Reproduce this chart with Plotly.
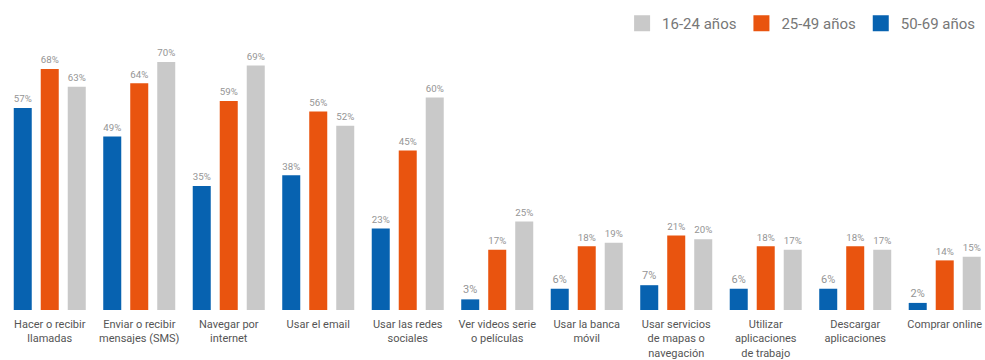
import plotly.graph_objects as go

categories = [
    "Hacer o recibir<br>llamadas",
    "Enviar o recibir<br>mensajes (SMS)",
    "Navegar por<br>internet",
    "Usar el email",
    "Usar las redes<br>sociales",
    "Ver videos serie<br>o películas",
    "Usar la banca<br>móvil",
    "Usar servicios<br>de mapas o<br>navegación",
    "Utilizar<br>aplicaciones<br>de trabajo",
    "Descargar<br>aplicaciones",
    "Comprar online",
]

edad_50_69 = [57, 49, 35, 38, 23, 3, 6, 7, 6, 6, 2]
edad_25_49 = [68, 64, 59, 56, 45, 17, 18, 21, 18, 18, 14]
edad_16_24 = [63, 70, 69, 52, 60, 25, 19, 20, 17, 17, 15]

series = [
    ("50-69 años", edad_50_69, "#0762B0"),
    ("25-49 años", edad_25_49, "#E9540F"),
    ("16-24 años", edad_16_24, "#C9C9C9"),
]

x = list(range(len(categories)))

fig = go.Figure()
for name, vals, color in series:
    fig.add_trace(go.Bar(
        x=x, y=vals, name=name, showlegend=False,
        marker=dict(color=color, line=dict(width=0)),
        text=[f"{v}%" for v in vals],
        textposition="outside",
        textfont=dict(size=11, color="#959595"),
        cliponaxis=False,
    ))

# legend entries with larger square swatches
for name, _, color in series:
    fig.add_trace(go.Scatter(
        x=[None], y=[None], name=name, mode="markers",
        marker=dict(symbol="square", size=16, color=color),
        showlegend=True, hoverinfo="skip",
    ))

fig.update_layout(
    width=985, height=360,
    margin=dict(l=5, r=0, t=40, b=48),
    paper_bgcolor="white", plot_bgcolor="white",
    font=dict(family="Roboto, Arial, sans-serif", color="#666"),
    barmode="group",
    bargap=0.095,
    bargroupgap=0.333,
    legend=dict(
        orientation="h", traceorder="reversed",
        x=0.995, xanchor="right", y=1.0, yanchor="bottom",
        font=dict(size=15, color="#777"),
        itemsizing="trace",
        itemwidth=30,
    ),
    xaxis=dict(
        tickmode="array", tickvals=x, ticktext=categories,
        range=[-0.5, 10.45],
        showgrid=False, zeroline=False, showline=False,
        ticks="", tickfont=dict(size=11, color="#555"),
        ticklabelstandoff=6,
    ),
    yaxis=dict(
        range=[0, 76.2], visible=False, showgrid=False, zeroline=False,
    ),
)

fig.write_html("out.html")
